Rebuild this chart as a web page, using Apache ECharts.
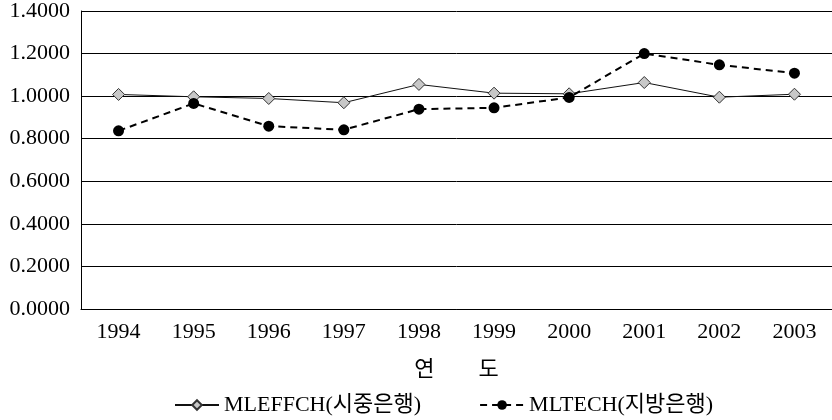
<!DOCTYPE html>
<html>
<head>
<meta charset="utf-8">
<script src="https://cdn.jsdelivr.net/npm/echarts@6/dist/echarts.min.js"></script>
<style>
html,body{margin:0;padding:0;background:#fff;}
#chart{width:832px;height:420px;}
</style>
</head>
<body>
<div id="chart"></div>
<script>
const years = ['1994','1995','1996','1997','1998','1999','2000','2001','2002','2003'];
const mleffch = [1.008, 0.997, 0.989, 0.969, 1.055, 1.014, 1.011, 1.064, 0.995, 1.009];
const mltech = [0.837, 0.966, 0.859, 0.842, 0.939, 0.945, 0.994, 1.200, 1.147, 1.108];
const seriesNames = ['MLEFFCH(시중은행)', 'MLTECH(지방은행)'];
const xAxisTitle = '연　　도';

const FONT = '"Liberation Serif", "Noto Sans CJK KR", serif';
const chart = echarts.init(document.getElementById('chart'), null, {renderer: 'canvas'});
chart.setOption({
  animation: false,
  backgroundColor: '#fff',
  textStyle: {fontFamily: FONT},
  grid: {left: 81, right: -5, top: 11, bottom: 111, containLabel: false},
  legend: {
    left: 169, top: 389,
    itemWidth: 44, itemHeight: 12, itemGap: 58,
    textStyle: {fontFamily: FONT, fontSize: 22, color: '#000', padding: [0, 0, 0, 0]},
    data: seriesNames
  },
  xAxis: {
    type: 'category',
    data: years,
    boundaryGap: true,
    name: xAxisTitle,
    nameLocation: 'middle',
    nameGap: 50,
    nameTextStyle: {fontFamily: FONT, fontSize: 22, color: '#000'},
    axisLine: {lineStyle: {color: '#000', width: 1}},
    axisTick: {inside: true, length: 7, lineStyle: {color: '#000'}},
    axisLabel: {fontFamily: FONT, fontSize: 22, color: '#000', margin: 12},
    splitLine: {show: false}
  },
  yAxis: {
    type: 'value',
    min: 0, max: 1.4, interval: 0.2,
    axisLine: {show: true, lineStyle: {color: '#000', width: 1}},
    axisTick: {show: false},
    axisLabel: {fontFamily: FONT, fontSize: 22, color: '#000', margin: 11,
      formatter: v => v.toFixed(4)},
    splitLine: {show: true, lineStyle: {color: '#000', width: 1}}
  },
  series: [
    {
      name: seriesNames[0],
      type: 'line',
      data: mleffch,
      symbol: 'diamond',
      symbolSize: 12,
      lineStyle: {color: '#111', width: 1, type: 'solid'},
      itemStyle: {color: '#c8c8c8', borderColor: '#333', borderWidth: 1},
      z: 3
    },
    {
      name: seriesNames[1],
      type: 'line',
      data: mltech,
      symbol: 'circle',
      symbolSize: 11,
      lineStyle: {color: '#000', width: 2, type: [7, 5]},
      itemStyle: {color: '#000', borderColor: '#000', borderWidth: 0},
      z: 4
    }
  ]
});
</script>
</body>
</html>
